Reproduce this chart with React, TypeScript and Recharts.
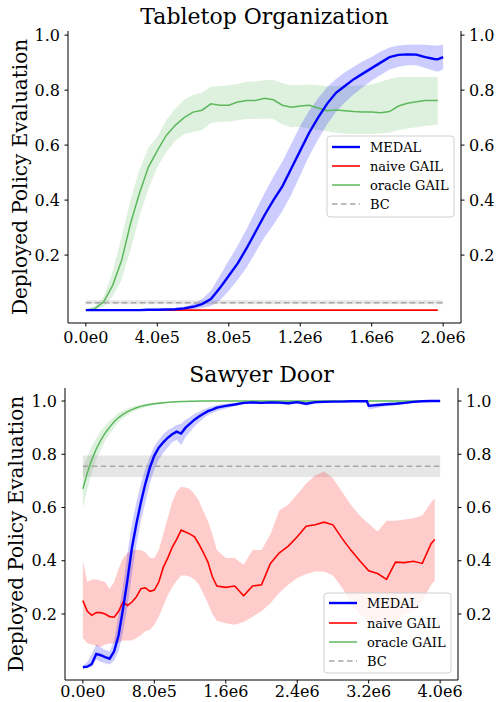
import React from 'react';
import { ComposedChart, Line, Area, XAxis, YAxis } from 'recharts';

const SERIF = '"DejaVu Serif", "Liberation Serif", serif';

// ---------------- Tabletop Organization ----------------
const topX = [
  0, 0.5e5, 1e5, 1.5e5, 2e5, 2.5e5, 3e5, 3.5e5, 4e5, 4.5e5,
  5e5, 5.5e5, 6e5, 6.5e5, 7e5, 7.5e5, 8e5, 8.5e5, 9e5, 9.5e5,
  1e6, 1.05e6, 1.1e6, 1.15e6, 1.2e6, 1.25e6, 1.3e6, 1.35e6, 1.4e6, 1.45e6,
  1.5e6, 1.55e6, 1.6e6, 1.65e6, 1.7e6, 1.75e6, 1.8e6, 1.85e6, 1.9e6, 1.95e6,
  1.97e6, 2e6,
];
const topMedal = [
  0, 0, 0, 0, 0, 0, 0, 0.001, 0.001, 0.002,
  0.003, 0.006, 0.012, 0.022, 0.04, 0.08, 0.125, 0.17, 0.225, 0.285,
  0.345, 0.4, 0.45, 0.515, 0.58, 0.645, 0.7, 0.75, 0.79, 0.815,
  0.84, 0.86, 0.88, 0.9, 0.92, 0.928, 0.93, 0.929, 0.92, 0.913,
  0.912, 0.92,
];
const topMedalLow = [
  0, 0, 0, 0, 0, 0, 0, 0, 0, 0,
  0, 0.001, 0.003, 0.008, 0.015, 0.035, 0.07, 0.11, 0.155, 0.21,
  0.265, 0.31, 0.36, 0.42, 0.49, 0.56, 0.62, 0.675, 0.72, 0.755,
  0.785, 0.81, 0.835, 0.855, 0.875, 0.885, 0.89, 0.89, 0.88, 0.87,
  0.867, 0.875,
];
const topMedalHigh = [
  0.002, 0.002, 0.002, 0.002, 0.002, 0.002, 0.002, 0.003, 0.004, 0.006,
  0.008, 0.013, 0.022, 0.04, 0.07, 0.125, 0.18, 0.235, 0.295, 0.36,
  0.425, 0.485, 0.54, 0.605, 0.67, 0.725, 0.77, 0.81, 0.84, 0.865,
  0.885, 0.905, 0.92, 0.94, 0.955, 0.962, 0.965, 0.966, 0.965, 0.962,
  0.962, 0.965,
];
const topNaive = [
  0, 0, 0, 0, 0, 0, 0, 0, 0, 0,
  0, 0, 0, 0, 0, 0, 0, 0, 0, 0,
  0, 0, 0, 0, 0, 0, 0, 0, 0, 0,
  0, 0, 0, 0, 0, 0, 0, 0, 0, 0,
  0, null,
];
const topOracle = [
  0, 0.005, 0.03, 0.09, 0.18, 0.315, 0.425, 0.52, 0.58, 0.635,
  0.672, 0.7, 0.72, 0.727, 0.75, 0.745, 0.745, 0.757, 0.762, 0.762,
  0.77, 0.765, 0.745, 0.738, 0.742, 0.745, 0.735, 0.725, 0.728, 0.725,
  0.722, 0.72, 0.72, 0.718, 0.722, 0.742, 0.752, 0.758, 0.762, 0.762,
  0.762, null,
];
const topOracleLow = [
  0, 0, 0.012, 0.05, 0.11, 0.22, 0.34, 0.44, 0.52, 0.575,
  0.615, 0.64, 0.648, 0.655, 0.68, 0.685, 0.685, 0.69, 0.695, 0.695,
  0.697, 0.695, 0.675, 0.665, 0.667, 0.66, 0.655, 0.65, 0.645, 0.642,
  0.64, 0.64, 0.64, 0.642, 0.645, 0.655, 0.66, 0.665, 0.67, 0.673,
  0.675, null,
];
const topOracleHigh = [
  0.003, 0.015, 0.048, 0.14, 0.266, 0.4, 0.51, 0.59, 0.63, 0.69,
  0.733, 0.765, 0.782, 0.79, 0.812, 0.815, 0.818, 0.822, 0.83, 0.832,
  0.836, 0.838, 0.825, 0.818, 0.818, 0.82, 0.818, 0.815, 0.815, 0.816,
  0.815, 0.818, 0.82, 0.83, 0.84, 0.848, 0.848, 0.848, 0.848, 0.848,
  0.848, null,
];
const topBC = 0.027;
const topBCLow = 0.021;
const topBCHigh = 0.036;
const topXTicks = [0, 4e5, 8e5, 1.2e6, 1.6e6, 2e6];
const topXTickLabels = ['0.0e0', '4.0e5', '8.0e5', '1.2e6', '1.6e6', '2.0e6'];

// ---------------- Sawyer Door ----------------
const botX = [
  0, 0.5e5, 1e5, 1.5e5, 2e5, 2.5e5, 3e5, 3.5e5, 4e5, 4.5e5,
  5e5, 5.5e5, 6e5, 6.5e5, 7e5, 7.5e5, 8e5, 8.5e5, 9e5, 9.5e5,
  1e6, 1.05e6, 1.1e6, 1.15e6, 1.2e6, 1.25e6, 1.3e6, 1.35e6, 1.4e6, 1.45e6,
  1.5e6, 1.6e6, 1.7e6, 1.8e6, 1.9e6, 2e6, 2.1e6, 2.2e6, 2.3e6, 2.4e6,
  2.5e6, 2.6e6, 2.7e6, 2.8e6, 2.9e6, 3e6, 3.1e6, 3.18e6, 3.2e6, 3.3e6,
  3.4e6, 3.5e6, 3.6e6, 3.7e6, 3.8e6, 3.9e6, 3.94e6, 4e6,
];
const botMedal = [
  0.0, 0.002, 0.012, 0.05, 0.045, 0.038, 0.032, 0.06, 0.12, 0.22,
  0.33, 0.45, 0.54, 0.62, 0.69, 0.75, 0.795, 0.825, 0.845, 0.862,
  0.875, 0.885, 0.878, 0.9, 0.915, 0.93, 0.942, 0.952, 0.962, 0.968,
  0.975, 0.982, 0.987, 0.993, 0.995, 0.993, 0.995, 0.994, 0.992, 0.996,
  0.99, 0.996, 0.997, 0.998, 0.998, 0.999, 0.999, 0.999, 0.982, 0.985,
  0.988, 0.99, 0.993, 0.997, 0.999, 1.0, 1.0, 1.0,
];
const botMedalLow = [
  0.0, 0.0, 0.0, 0.03, 0.02, 0.015, 0.01, 0.025, 0.06, 0.13,
  0.23, 0.35, 0.46, 0.55, 0.62, 0.69, 0.745, 0.78, 0.805, 0.825,
  0.845, 0.855, 0.835, 0.865, 0.885, 0.905, 0.92, 0.935, 0.948, 0.955,
  0.963, 0.972, 0.98, 0.988, 0.99, 0.988, 0.99, 0.988, 0.986, 0.99,
  0.982, 0.99, 0.993, 0.995, 0.996, 0.997, 0.997, 0.997, 0.968, 0.975,
  0.98, 0.984, 0.988, 0.993, 0.997, 0.998, 0.998, 0.998,
];
const botMedalHigh = [
  0.006, 0.02, 0.05, 0.085, 0.075, 0.065, 0.06, 0.1, 0.2, 0.31,
  0.43, 0.54, 0.62, 0.69, 0.745, 0.79, 0.83, 0.855, 0.875, 0.89,
  0.9, 0.91, 0.915, 0.93, 0.94, 0.952, 0.96, 0.968, 0.975, 0.98,
  0.985, 0.99, 0.993, 0.997, 0.998, 0.997, 0.998, 0.998, 0.997, 0.999,
  0.996, 0.999, 1.0, 1.0, 1.0, 1.0, 1.0, 1.0, 0.99, 0.992,
  0.994, 0.995, 0.997, 0.999, 1.0, 1.0, 1.0, 1.0,
];
const botNaive = [
  0.25, 0.21, 0.195, 0.205, 0.205, 0.2, 0.19, 0.188, 0.21, 0.245,
  0.232, 0.245, 0.265, 0.295, 0.298, 0.285, 0.29, 0.32, 0.375, 0.41,
  0.45, 0.48, 0.515, 0.508, 0.5, 0.49, 0.462, 0.43, 0.395, 0.34,
  0.305, 0.3, 0.305, 0.268, 0.305, 0.31, 0.39, 0.43, 0.455, 0.49,
  0.53, 0.535, 0.545, 0.535, 0.485, 0.44, 0.4, 0.37, 0.362, 0.352,
  0.33, 0.395, 0.393, 0.398, 0.39, 0.465, 0.48, null,
];
const botNaiveLow = [
  0.11, 0.09, 0.085, 0.08, 0.076, 0.085, 0.089, 0.088, 0.092, 0.1,
  0.1, 0.1, 0.11, 0.12, 0.135, 0.14, 0.16, 0.19, 0.23, 0.27,
  0.3, 0.325, 0.345, 0.345, 0.34, 0.33, 0.31, 0.275, 0.24, 0.2,
  0.175, 0.165, 0.16, 0.17, 0.19, 0.21, 0.24, 0.28, 0.31, 0.335,
  0.35, 0.36, 0.36, 0.345, 0.3, 0.24, 0.2, 0.175, 0.17, 0.165,
  0.17, 0.165, 0.2, 0.21, 0.25, 0.31, 0.325, null,
];
const botNaiveHigh = [
  0.4, 0.32, 0.33, 0.33, 0.325, 0.32, 0.295, 0.32, 0.37, 0.41,
  0.43, 0.44, 0.44, 0.44, 0.433, 0.41, 0.41, 0.44, 0.5, 0.56,
  0.62, 0.66, 0.678, 0.675, 0.67, 0.65, 0.625, 0.585, 0.55, 0.5,
  0.44, 0.41, 0.41, 0.385, 0.44, 0.44, 0.5, 0.59, 0.61, 0.65,
  0.69, 0.72, 0.735, 0.71, 0.66, 0.61, 0.57, 0.545, 0.54, 0.51,
  0.55, 0.55, 0.555, 0.56, 0.57, 0.62, 0.635, null,
];
const botOracle = [
  0.67, 0.73, 0.78, 0.82, 0.852, 0.88, 0.902, 0.922, 0.938, 0.95,
  0.96, 0.968, 0.975, 0.98, 0.984, 0.987, 0.99, 0.992, 0.994, 0.995,
  0.996, 0.997, 0.998, 0.998, 0.999, 0.999, 1.0, 1.0, 1.0, 1.0,
  1.0, 1.0, 1.0, 1.0, 1.0, 1.0, 1.0, 1.0, 1.0, 1.0,
  1.0, 1.0, 1.0, 1.0, 1.0, 1.0, 1.0, 1.0, 1.0, 1.0,
  1.0, 1.0, 1.0, 1.0, 1.0, 1.0, 1.0, 1.0,
];
const botOracleLow = [
  0.6, 0.67, 0.73, 0.78, 0.815, 0.85, 0.877, 0.9, 0.92, 0.935,
  0.947, 0.957, 0.966, 0.972, 0.977, 0.981, 0.985, 0.988, 0.99, 0.992,
  0.993, 0.995, 0.996, 0.997, 0.998, 0.998, 0.999, 0.999, 0.999, 1.0,
  1.0, 1.0, 1.0, 1.0, 1.0, 1.0, 1.0, 1.0, 1.0, 1.0,
  1.0, 1.0, 1.0, 1.0, 1.0, 1.0, 1.0, 1.0, 1.0, 1.0,
  1.0, 1.0, 1.0, 1.0, 1.0, 1.0, 1.0, 1.0,
];
const botOracleHigh = [
  0.75, 0.79, 0.83, 0.86, 0.887, 0.908, 0.926, 0.942, 0.955, 0.964,
  0.972, 0.978, 0.983, 0.987, 0.99, 0.992, 0.994, 0.996, 0.997, 0.998,
  0.998, 0.999, 0.999, 1.0, 1.0, 1.0, 1.0, 1.0, 1.0, 1.0,
  1.0, 1.0, 1.0, 1.0, 1.0, 1.0, 1.0, 1.0, 1.0, 1.0,
  1.0, 1.0, 1.0, 1.0, 1.0, 1.0, 1.0, 1.0, 1.0, 1.0,
  1.0, 1.0, 1.0, 1.0, 1.0, 1.0, 1.0, 1.0,
];
const botBC = 0.755;
const botBCLow = 0.715;
const botBCHigh = 0.795;
const botXTicks = [0, 8e5, 1.6e6, 2.4e6, 3.2e6, 4e6];
const botXTickLabels = ['0.0e0', '8.0e5', '1.6e6', '2.4e6', '3.2e6', '4.0e6'];

const yTicks = [0.2, 0.4, 0.6, 0.8, 1.0];
const yTickLabels = ['0.2', '0.4', '0.6', '0.8', '1.0'];

const seriesNames = ['MEDAL', 'naive GAIL', 'oracle GAIL', 'BC'];

const COLORS = {
  medal: '#0000ff',
  naive: '#ff0000',
  oracle: '#5cb85c',
  bc: '#808080',
};

const pair = (lo: number | null | undefined, hi: number | null | undefined) =>
  lo == null || hi == null ? null : [lo, hi];

function buildRows(
  xs: number[],
  medal: (number | null)[], medalLo: (number | null)[], medalHi: (number | null)[],
  naive: (number | null)[], naiveLo: (number | null)[] | null, naiveHi: (number | null)[] | null,
  oracle: (number | null)[], oracleLo: (number | null)[], oracleHi: (number | null)[],
  bc: number, bcLo: number, bcHi: number,
) {
  return xs.map((x, i) => ({
    x,
    medal: medal[i],
    medalBand: pair(medalLo[i], medalHi[i]),
    naive: naive[i],
    naiveBand: naiveLo && naiveHi ? pair(naiveLo[i], naiveHi[i]) : null,
    oracle: oracle[i],
    oracleBand: pair(oracleLo[i], oracleHi[i]),
    bc,
    bcBand: [bcLo, bcHi],
  }));
}

const topRows = buildRows(
  topX, topMedal, topMedalLow, topMedalHigh, topNaive, null, null,
  topOracle, topOracleLow, topOracleHigh, topBC, topBCLow, topBCHigh,
);
const botRows = buildRows(
  botX, botMedal, botMedalLow, botMedalHigh, botNaive, botNaiveLow, botNaiveHigh,
  botOracle, botOracleLow, botOracleHigh, botBC, botBCLow, botBCHigh,
);

const tickStyle = { fill: '#000', fontSize: 16, fontFamily: SERIF };

type PanelProps = {
  rows: any[];
  top: number;
  height: number;
  marginLeft: number;
  leftW: number;
  rightW: number;
  xAxisH: number;
  xTickMargin: number;
  xDomain: [number, number];
  yDomain: [number, number];
  xTicks: number[];
  xLabels: string[];
  naiveBand: boolean;
};

function Panel(p: PanelProps) {
  return (
    <div style={{ position: 'absolute', left: 0, top: p.top, fontFamily: SERIF }}>
      <ComposedChart
        width={498}
        height={p.height}
        data={p.rows}
        style={{ fontFamily: SERIF }}
        margin={{ top: 31, right: 0, bottom: 0, left: p.marginLeft }}
      >
        <XAxis
          dataKey="x"
          type="number"
          domain={p.xDomain}
          allowDataOverflow
          ticks={p.xTicks}
          interval={0}
          tickFormatter={(v: number, i: number) => p.xLabels[i]}
          height={p.xAxisH}
          tick={tickStyle}
          tickSize={3.5}
          tickMargin={p.xTickMargin}
          tickLine={{ stroke: '#000' }}
          axisLine={{ stroke: '#000' }}
        />
        <XAxis
          xAxisId="top"
          dataKey="x"
          orientation="top"
          type="number"
          domain={p.xDomain}
          allowDataOverflow
          height={0}
          tick={false}
          tickLine={false}
          axisLine={{ stroke: '#000' }}
        />
        <YAxis
          yAxisId="left"
          type="number"
          domain={p.yDomain}
          allowDataOverflow
          ticks={yTicks}
          interval={0}
          tickFormatter={(v: number, i: number) => yTickLabels[i]}
          width={p.leftW}
          tick={tickStyle}
          tickSize={3.5}
          tickMargin={4.5}
          tickLine={{ stroke: '#000' }}
          axisLine={{ stroke: '#000' }}
        />
        <YAxis
          yAxisId="right"
          orientation="right"
          type="number"
          domain={p.yDomain}
          allowDataOverflow
          ticks={yTicks}
          interval={0}
          tickFormatter={(v: number, i: number) => yTickLabels[i]}
          width={p.rightW}
          tick={tickStyle}
          tickSize={3.5}
          tickMargin={4.5}
          tickLine={{ stroke: '#000' }}
          axisLine={{ stroke: '#000' }}
        />
        <Area yAxisId="left" type="linear" dataKey="oracleBand" stroke="none" fill={COLORS.oracle} fillOpacity={0.2} isAnimationActive={false} activeDot={false} />
        <Area yAxisId="left" type="linear" dataKey="bcBand" stroke="none" fill={COLORS.bc} fillOpacity={0.2} isAnimationActive={false} activeDot={false} />
        {p.naiveBand && (
          <Area yAxisId="left" type="linear" dataKey="naiveBand" stroke="none" fill={COLORS.naive} fillOpacity={0.2} isAnimationActive={false} activeDot={false} />
        )}
        <Line yAxisId="left" type="linear" dataKey="oracle" stroke={COLORS.oracle} strokeWidth={1.5} dot={false} activeDot={false} isAnimationActive={false} />
        <Line yAxisId="left" type="linear" dataKey="bc" stroke="#a8a8a8" strokeWidth={1.5} strokeDasharray="5.5 3.5" dot={false} activeDot={false} isAnimationActive={false} />
        <Line yAxisId="left" type="linear" dataKey="naive" stroke={COLORS.naive} strokeWidth={1.6} dot={false} activeDot={false} isAnimationActive={false} />
        <Area yAxisId="left" type="linear" dataKey="medalBand" stroke="none" fill={COLORS.medal} fillOpacity={0.2} isAnimationActive={false} activeDot={false} />
        <Line yAxisId="left" type="linear" dataKey="medal" stroke={COLORS.medal} strokeWidth={2.4} dot={false} activeDot={false} isAnimationActive={false} />
      </ComposedChart>
    </div>
  );
}

function LegendBox({ x, y, w, h, rowY, lineX0, lineX1, textX }: {
  x: number; y: number; w: number; h: number; rowY: number[]; lineX0: number; lineX1: number; textX: number;
}) {
  const styles = [
    { stroke: COLORS.medal, width: 2.4, dash: undefined },
    { stroke: COLORS.naive, width: 1.6, dash: undefined },
    { stroke: COLORS.oracle, width: 1.5, dash: undefined },
    { stroke: '#a8a8a8', width: 1.5, dash: '5.5 3.5' },
  ];
  return (
    <g>
      <rect x={x} y={y} width={w} height={h} rx={3} ry={3} fill="#ffffff" fillOpacity={0.8} stroke="#d0d0d0" strokeWidth={1} />
      {seriesNames.map((name, i) => (
        <g key={name}>
          <line x1={lineX0} x2={lineX1} y1={rowY[i]} y2={rowY[i]} stroke={styles[i].stroke} strokeWidth={styles[i].width} strokeDasharray={styles[i].dash} />
          <text x={textX} y={rowY[i] + 4.6} fontSize={13} fontFamily={SERIF} style={{ fontFamily: SERIF }} fill="#000">{name}</text>
        </g>
      ))}
    </g>
  );
}

export default function App() {
  return (
    <div style={{ position: 'absolute', left: 0, top: 0, width: 498, height: 702, background: '#fff', overflow: 'hidden', fontFamily: SERIF }}>
      <Panel
        rows={topRows}
        top={0}
        height={351}
        marginLeft={8}
        leftW={60}
        rightW={37}
        xAxisH={28}
        xTickMargin={5}
        xDomain={[-1e5, 2.1e6]}
        yDomain={[-0.047, 1.015]}
        xTicks={topXTicks}
        xLabels={topXTickLabels}
        naiveBand={false}
      />
      <Panel
        rows={botRows}
        top={357}
        height={345}
        marginLeft={5}
        leftW={60}
        rightW={40}
        xAxisH={22}
        xTickMargin={2.5}
        xDomain={[-2e5, 4.2e6]}
        yDomain={[-0.048, 1.049]}
        xTicks={botXTicks}
        xLabels={botXTickLabels}
        naiveBand={true}
      />
      <svg width={498} height={702} style={{ position: 'absolute', left: 0, top: 0, pointerEvents: 'none', fontFamily: SERIF }}>
        <text x={264.5} y={24} textAnchor="middle" fontSize={22} fontFamily={SERIF} fill="#000">Tabletop Organization</text>
        <text x={261.5} y={382} textAnchor="middle" fontSize={22} fontFamily={SERIF} fill="#000">Sawyer Door</text>
        <text transform="translate(27,177) rotate(-90)" textAnchor="middle" fontSize={20} fontFamily={SERIF} fill="#000">Deployed Policy Evaluation</text>
        <text transform="translate(23,534) rotate(-90)" textAnchor="middle" fontSize={20} fontFamily={SERIF} fill="#000">Deployed Policy Evaluation</text>
        <LegendBox x={327} y={136} w={127} h={81} rowY={[147, 166, 185, 204]} lineX0={332} lineX1={360} textX={370} />
        <LegendBox x={324} y={593} w={127} h={80} rowY={[603, 623, 642, 661]} lineX0={329} lineX1={357} textX={367} />
      </svg>
    </div>
  );
}
